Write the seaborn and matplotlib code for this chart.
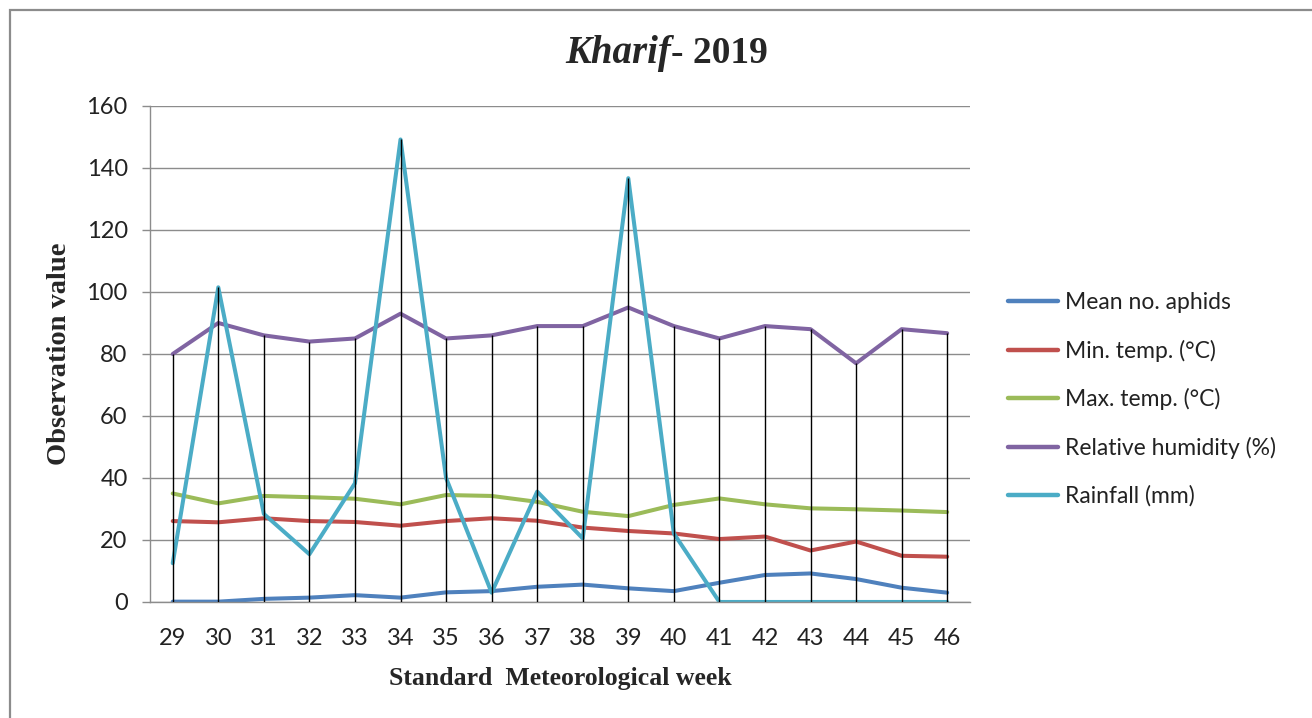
import numpy as np
import pandas as pd
import matplotlib.pyplot as plt
import seaborn as sns
from matplotlib.patches import Rectangle

# standard meteorological weeks
weeks = [29, 30, 31, 32, 33, 34, 35, 36, 37, 38, 39, 40, 41, 42, 43, 44, 45, 46]

aphids = [0.1, 0.1, 1.0, 1.4, 2.2, 1.4, 3.1, 3.5, 4.9, 5.6, 4.4, 3.5, 6.2, 8.7, 9.2, 7.4, 4.6, 3.0]
min_temp = [26.1, 25.7, 27.0, 26.1, 25.8, 24.6, 26.1, 27.0, 26.2, 24.0, 22.9, 22.1, 20.3, 21.1, 16.6, 19.5, 14.9, 14.6]
max_temp = [35.0, 31.8, 34.2, 33.8, 33.3, 31.5, 34.5, 34.2, 32.3, 29.1, 27.7, 31.3, 33.4, 31.5, 30.2, 29.9, 29.5, 29.0]
humidity = [80, 90, 86, 84, 85, 93, 85, 86, 89, 89, 95, 89, 85, 89, 88, 77, 88, 86.7]
rainfall = [12.5, 101.5, 28.4, 15.4, 38.3, 149.2, 40.0, 3.0, 35.6, 20.5, 136.7, 22.1, 0, 0, 0, 0, 0, 0]

series_names = ['Mean no. aphids', 'Min. temp. (°C)', 'Max. temp. (°C)',
                'Relative humidity (%)', 'Rainfall (mm)']
colors = ['#4F81BD', '#C0504D', '#9BBB59', '#8064A2', '#4BACC6']

df = pd.DataFrame({'week': weeks,
                   series_names[0]: aphids,
                   series_names[1]: min_temp,
                   series_names[2]: max_temp,
                   series_names[3]: humidity,
                   series_names[4]: rainfall})
long_df = df.melt(id_vars='week', var_name='series', value_name='value')

sns.set_theme(style='white')
plt.rcParams['font.family'] = ['Lato', 'DejaVu Sans']

fig = plt.figure(figsize=(13.12, 7.18), dpi=100)
ax = fig.add_axes([0.1143, 0.1616, 0.625, 0.6908])

sns.lineplot(data=long_df, x='week', y='value', hue='series', hue_order=series_names,
             palette=colors, linewidth=2.9, ax=ax, zorder=2)

# drop lines from the highest point down to the axis
top = df[series_names].max(axis=1)
ax.vlines(df['week'], 0, top, color='black', linewidth=1, zorder=3)

ax.set_xlim(28.5, 46.5)
ax.set_ylim(0, 160)
ax.set_yticks(range(0, 161, 20))
ax.set_xticks(weeks)
ax.grid(axis='y', color='#8c8c8c', linewidth=1)
ax.grid(axis='x', visible=False)
ax.set_axisbelow(True)
for side in ['top', 'right']:
    ax.spines[side].set_visible(False)
for side in ['left', 'bottom']:
    ax.spines[side].set_color('#8c8c8c')
    ax.spines[side].set_linewidth(1)
ax.tick_params(axis='y', left=True, direction='out', length=6, width=1, color='#8c8c8c',
               pad=10, labelsize=17, labelcolor='#222222')
ax.tick_params(axis='x', bottom=False, length=0, pad=19, labelsize=17, labelcolor='#222222')
ax.set_xlabel('')
ax.set_ylabel('')

fig.text(0.4268, 0.0555, 'Standard  Meteorological week', family='Liberation Serif',
         weight='bold', size=18.5, ha='center', va='center')
fig.text(0.045, 0.507, 'Observation value', family='Liberation Serif',
         weight='bold', size=20.5, ha='center', va='center', rotation=90)

# title: italic "Kharif" followed by upright "- 2019"
fig.text(0.5115, 0.912, 'Kharif', family='Liberation Serif', weight='bold',
         style='italic', size=28, ha='right', va='baseline')
fig.text(0.5115, 0.912, '- 2019', family='Liberation Serif', weight='bold',
         size=27, ha='left', va='baseline')

handles, labels = ax.get_legend_handles_labels()
if ax.get_legend() is not None:
    ax.get_legend().remove()
leg = fig.legend(handles, labels, loc='center left', bbox_to_anchor=(0.768, 0.4436),
                 frameon=False, fontsize=16.5, handlelength=2.2, handletextpad=0.3,
                 labelspacing=1.15, borderpad=0, borderaxespad=0)
for h in leg.legend_handles:
    h.set_linewidth(3.2)
for t in leg.get_texts():
    t.set_color('#222222')

# outer chart border
fig.patches.append(Rectangle((10 / 1312, -0.01), 1.02, 1 - 10 / 718 + 0.01,
                             transform=fig.transFigure, fill=False,
                             edgecolor='#8c8c8c', linewidth=1.6))

fig.savefig('out.png', dpi=100)
plt.close()
